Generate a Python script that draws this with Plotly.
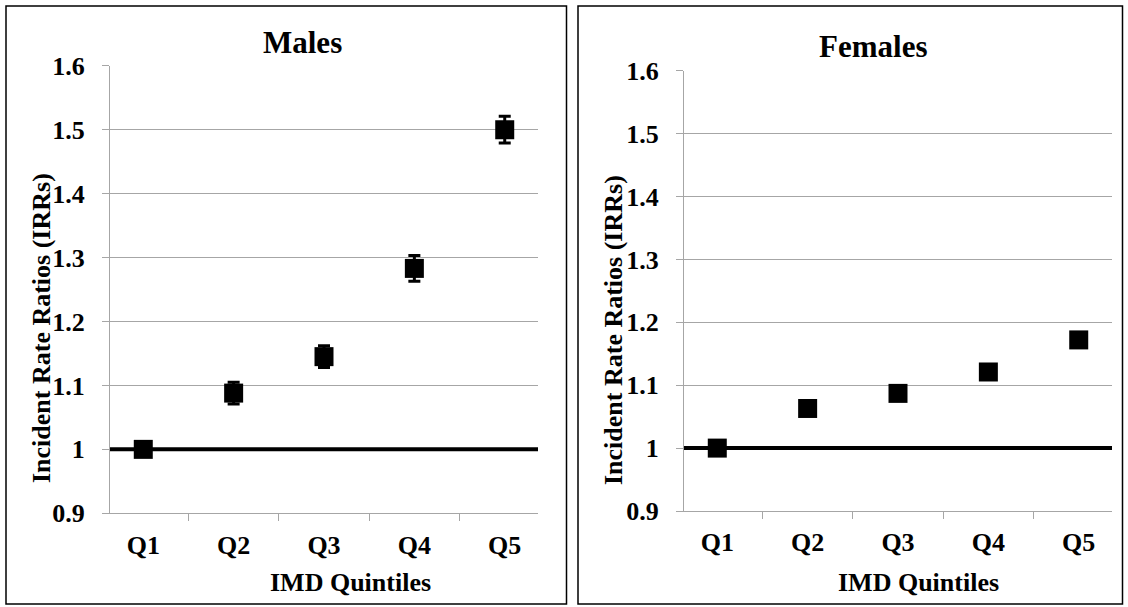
import plotly.graph_objects as go

# ---- data ----
quintiles = ["Q1", "Q2", "Q3", "Q4", "Q5"]
males_irr = [1.0, 1.088, 1.145, 1.283, 1.500]
males_err = [0.0, 0.017, 0.017, 0.020, 0.021]
females_irr = [1.0, 1.063, 1.087, 1.121, 1.172]
y_tickvals = [0.9, 1.0, 1.1, 1.2, 1.3, 1.4, 1.5, 1.6]
y_ticktext = ["0.9", "1", "1.1", "1.2", "1.3", "1.4", "1.5", "1.6"]
baseline = 1.0

W, H = 1128, 607
FONT = "Liberation Serif"
GRID = "#a6a6a6"


def px_x(v):
    return v / W


def px_y(v):
    return (H - v) / H


fig = go.Figure()

fig.add_trace(go.Scatter(
    x=quintiles, y=males_irr, mode="markers",
    marker=dict(symbol="square", size=19, color="black"),
    error_y=dict(type="data", array=males_err, color="black", thickness=3, width=6),
    xaxis="x", yaxis="y", showlegend=False,
))
fig.add_trace(go.Scatter(
    x=quintiles, y=females_irr, mode="markers",
    marker=dict(symbol="square", size=19, color="black"),
    xaxis="x2", yaxis="y2", showlegend=False,
))

tickfont = dict(family=FONT, size=26, color="black", weight="bold")

xcommon = dict(type="category", tickson="boundaries", ticks="outside", ticklen=7,
               tickcolor=GRID, showline=True, linecolor=GRID, linewidth=1.3,
               showgrid=False, tickfont=tickfont, ticklabelstandoff=8, automargin=False)
ycommon = dict(range=[0.9, 1.6], tickmode="array", tickvals=y_tickvals, ticktext=y_ticktext,
               ticks="outside", ticklen=7, tickcolor=GRID, showline=True, linecolor=GRID,
               linewidth=1.3, showgrid=True, gridcolor=GRID, gridwidth=1.3, zeroline=False,
               tickfont=tickfont, ticklabelstandoff=12, automargin=False)

fig.update_layout(
    width=W, height=H, autosize=False,
    margin=dict(l=0, r=0, t=0, b=0, pad=0, autoexpand=False),
    paper_bgcolor="white", plot_bgcolor="white",
    xaxis=dict(domain=[px_x(110), px_x(538)], anchor="y", **xcommon),
    yaxis=dict(domain=[px_y(513.3), px_y(65.7)], anchor="x", **ycommon),
    xaxis2=dict(domain=[px_x(684), px_x(1112)], anchor="y2", **xcommon),
    yaxis2=dict(domain=[px_y(511), px_y(70.7)], anchor="x2", **ycommon),
)

# reference line at IRR = 1
for xr, yr in [("x domain", "y"), ("x2 domain", "y2")]:
    fig.add_shape(type="line", xref=xr, yref=yr, x0=0, x1=1, y0=baseline, y1=baseline,
                  line=dict(color="black", width=4), layer="above")

# panel borders
for x0, x1 in [(6, 566.5), (578, 1122.5)]:
    fig.add_shape(type="rect", xref="paper", yref="paper",
                  x0=px_x(x0), x1=px_x(x1), y0=px_y(604), y1=px_y(6),
                  line=dict(color="black", width=1.5), fillcolor="rgba(0,0,0,0)")

titlefont = dict(family=FONT, size=31, color="black", weight="bold")
axfont = dict(family=FONT, size=26, color="black", weight="bold")

annots = [
    ("Males", 302, 42, titlefont, 0),
    ("Females", 873, 46, titlefont, 0),
    ("IMD Quintiles", 350, 582, axfont, 0),
    ("IMD Quintiles", 918, 582, axfont, 0),
    ("Incident Rate Ratios (IRRs)", 41, 328, axfont, -90),
    ("Incident Rate Ratios (IRRs)", 613, 330, axfont, -90),
]
for text, x, y, f, ang in annots:
    fig.add_annotation(text=text, xref="paper", yref="paper", x=px_x(x), y=px_y(y),
                       xanchor="center", yanchor="middle", showarrow=False,
                       font=f, textangle=ang)

fig.write_html("out.html")
